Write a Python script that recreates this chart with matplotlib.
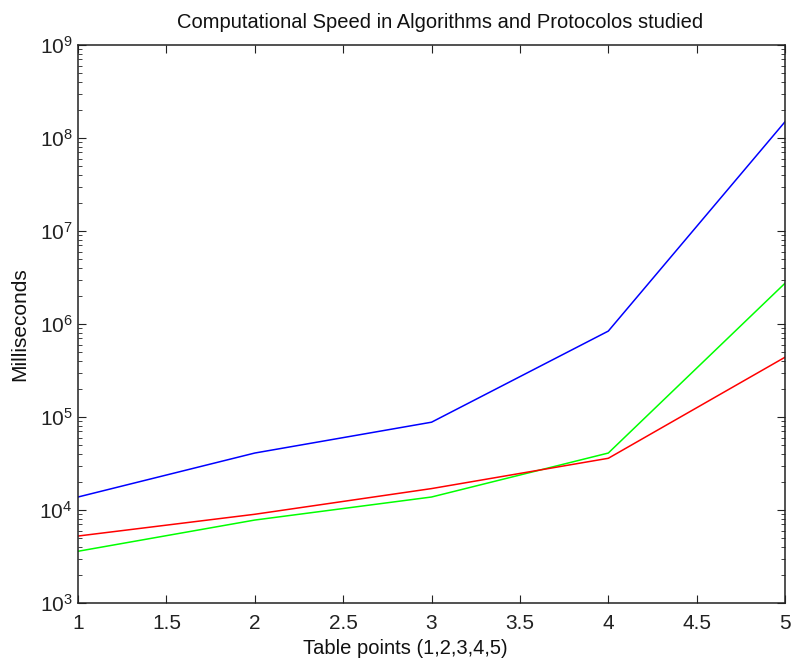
import matplotlib
matplotlib.use("Agg")
import matplotlib.pyplot as plt
from matplotlib.ticker import LogLocator, MultipleLocator, NullFormatter, FixedLocator, LogFormatterMathtext

x = [1, 2, 3, 4, 5]
blue_vals = [13800, 41000, 88000, 840000, 1.5e8]
green_vals = [3600, 7800, 13800, 41000, 2.75e6]
red_vals = [5250, 9000, 17000, 36000, 440000]
y_ticks = [1e3, 1e4, 1e5, 1e6, 1e7, 1e8, 1e9]

plt.rcParams['font.family'] = ['Liberation Sans', 'DejaVu Sans']
plt.rcParams['mathtext.fontset'] = 'custom'
plt.rcParams['mathtext.rm'] = 'Liberation Sans'
plt.rcParams['mathtext.it'] = 'Liberation Sans'
fig = plt.figure(figsize=(7.93, 6.63), dpi=100)
ax = fig.add_axes([0.0984, 0.0905, 0.8916, 0.8415])
ax.plot(x, blue_vals, color='#0000ff', lw=1.1)
ax.plot(x, green_vals, color='#00ff00', lw=1.1)
ax.plot(x, red_vals, color='#ff0000', lw=1.1)
ax.set_yscale('log')
ax.set_xlim(1, 5)
ax.set_ylim(1e3, 1e9)
ax.xaxis.set_major_locator(MultipleLocator(0.5))
ax.xaxis.set_major_formatter(plt.FuncFormatter(lambda v, p: f"{v:g}"))
ax.yaxis.set_major_locator(FixedLocator(y_ticks))
ax.yaxis.set_major_formatter(LogFormatterMathtext())
minor = [m * d for d in y_ticks[:-1] for m in range(2, 10)]
ax.yaxis.set_minor_locator(FixedLocator(minor))
ax.yaxis.set_minor_formatter(NullFormatter())
ax.tick_params(which='both', direction='in', top=True, right=True, labelsize=15, colors='#222222')
ax.tick_params(axis='x', pad=8)
ax.tick_params(axis='y', pad=4)
ax.tick_params(which='major', length=6)
ax.tick_params(which='minor', length=3)
for s in ax.spines.values():
    s.set_linewidth(1.1)
    s.set_color('#222222')
fig.text(0.555, (663 - 28) / 663, 'Computational Speed in Algorithms and Protocolos studied',
         fontsize=14.5, ha='center', va='baseline', color='#111111')
ax.set_xlabel('Table points (1,2,3,4,5)', fontsize=14.5, color='#111111')
ax.xaxis.set_label_coords((405 - 78) / 707, (603 - 639) / 558)
ax.set_ylabel('Milliseconds', fontsize=15, color='#111111')
ax.yaxis.set_label_coords((29 - 78) / 707, 0.5)
fig.savefig('out.png', dpi=100)
